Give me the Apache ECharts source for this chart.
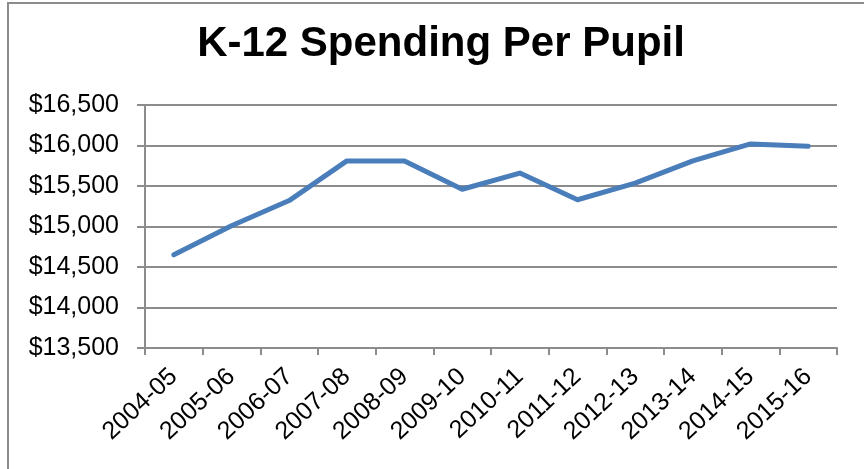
<!DOCTYPE html>
<html>
<head>
<meta charset="utf-8">
<script src="https://cdn.jsdelivr.net/npm/echarts@6/dist/echarts.min.js"></script>
<style>
  html, body { margin: 0; padding: 0; background: #fff; }
  #chart { width: 864px; height: 469px; }
</style>
</head>
<body>
<div id="chart"></div>
<script>
// school years
const years = ['2004-05', '2005-06', '2006-07', '2007-08', '2008-09', '2009-10',
               '2010-11', '2011-12', '2012-13', '2013-14', '2014-15', '2015-16'];
// spending per pupil, dollars
const spending = [14650, 15010, 15320, 15810, 15810, 15460, 15660, 15330, 15535, 15810, 16020, 15990];

const gridColor = '#8c8c8c';

let chart = echarts.init(document.getElementById('chart'));
chart.setOption({
    animation: false,
    title: {
        text: 'K-12 Spending Per Pupil',
        left: 436,
        top: 18,
        textAlign: 'center',
        textStyle: {
            fontFamily: 'Liberation Sans',
            fontSize: 42,
            fontWeight: 'bold',
            color: '#000'
        }
    },
    graphic: [{
        type: 'rect',
        shape: { x: 8, y: 3, width: 900, height: 500 },
        style: { fill: 'none', stroke: '#8c8c8c', lineWidth: 2 }
    }],
    grid: { left: 145, right: 27, top: 105, bottom: 121 },
    xAxis: {
        type: 'category',
        data: years,
        boundaryGap: true,
        axisLine: { lineStyle: { color: gridColor, width: 2 } },
        axisTick: { show: true, length: 7, lineStyle: { color: gridColor, width: 2 } },
        axisLabel: {
            interval: 0,
            rotate: 43,
            margin: 25,
            fontFamily: 'Liberation Sans',
            fontSize: 25,
            color: '#000'
        }
    },
    yAxis: {
        type: 'value',
        min: 13500,
        max: 16500,
        interval: 500,
        axisLine: { show: true, lineStyle: { color: gridColor, width: 2 } },
        axisTick: { show: true, length: 8, lineStyle: { color: gridColor, width: 2 } },
        splitLine: { lineStyle: { color: gridColor, width: 2 } },
        axisLabel: {
            margin: 26,
            fontFamily: 'Liberation Sans',
            fontSize: 25,
            color: '#000',
            formatter: (v) => '$' + v.toLocaleString('en-US')
        }
    },
    series: [{
        type: 'line',
        data: spending,
        showSymbol: false,
        symbol: 'none',
        lineStyle: { color: '#4a7ebb', width: 5, join: 'round', cap: 'round' }
    }]
});
</script>
</body>
</html>
